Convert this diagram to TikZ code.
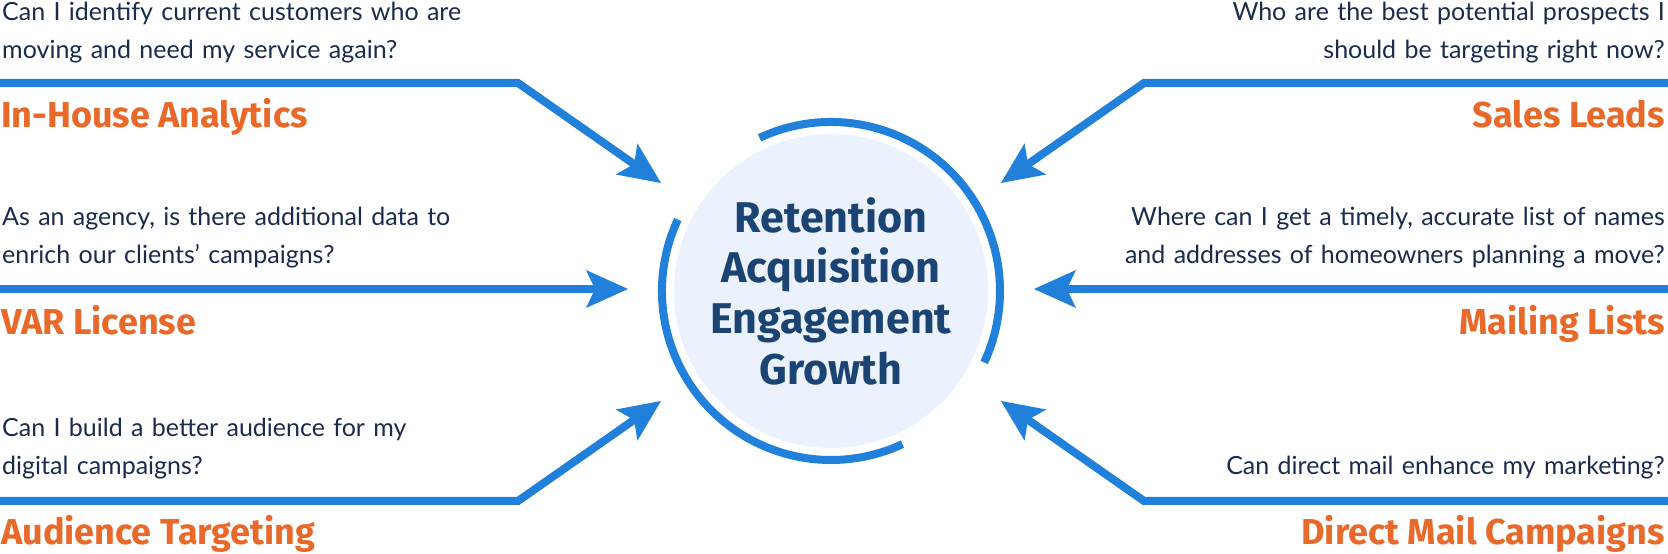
\documentclass[tikz,border=0pt]{standalone}
\usepackage{fontspec}
\setmainfont{Lato}
\newfontfamily\headfont{Fira Sans}
\usetikzlibrary{arrows.meta}

\definecolor{lineblue}{HTML}{2180DA}
\definecolor{leadorange}{HTML}{E8692A}
\definecolor{asknavy}{HTML}{1B2B4D}
\definecolor{hubnavy}{HTML}{1B4472}
\definecolor{hubfill}{HTML}{EBF2FE}

\tikzset{
	feed/.style={draw=lineblue, line width=8pt, -{Stealth[length=42pt, width=38pt, inset=9pt, line width=0pt]}},
	ring/.style={draw=lineblue, line width=8pt},
	ask/.style={inner sep=0pt, text=asknavy, text width=600pt, font=\fontsize{25}{37.5}\selectfont},
	lead/.style={inner sep=0pt, text=leadorange, font=\headfont\bfseries\fontsize{36}{43}\selectfont},
	hub/.style={circle, fill=hubfill, minimum size=314pt, inner sep=0pt, align=center, text=hubnavy, font=\headfont\bfseries\fontsize{43}{50.7}\selectfont}
}

\begin{document}
\begin{tikzpicture}[x=1pt, y=1pt]
	\useasboundingbox (0,0) rectangle (1668,554);

	\node [hub] (hub) at (831,263) {Retention\\Acquisition\\Engagement\\Growth};
	\draw [ring] ([shift={(115:169pt)}] hub.center) arc [start angle=115, end angle=-25, radius=169pt];
	\draw [ring] ([shift={(155:169pt)}] hub.center) arc [start angle=155, end angle=295, radius=169pt];

	% left side
	\coordinate (inA) at (0,471);
	\coordinate (inB) at (518,471);
	\coordinate (inC) at (661,371);
	\draw [feed] (inA) -- (inB) -- (inC);
	\node [ask, anchor=base west, align=left] (qIn) at ([shift={(2pt,62pt)}] inA) {Can I identify current customers who are\\moving and need my service again?};
	\node [lead, anchor=base west] (tIn) at ([shift={(1pt,-45pt)}] inA) {In-House Analytics};

	\coordinate (varA) at (0,265);
	\coordinate (varC) at (628,265);
	\draw [feed] (varA) -- (varC);
	\node [ask, anchor=base west, align=left] (qVar) at ([shift={(2pt,63pt)}] varA) {As an agency, is there additional data to\\enrich our clients’ campaigns?};
	\node [lead, anchor=base west] (tVar) at ([shift={(1pt,-46pt)}] varA) {VAR License};

	\coordinate (audA) at (0,53);
	\coordinate (audB) at (518,53);
	\coordinate (audC) at (661,153);
	\draw [feed] (audA) -- (audB) -- (audC);
	\node [ask, anchor=base west, align=left] (qAud) at ([shift={(2pt,64pt)}] audA) {Can I build a better audience for my\\digital campaigns?};
	\node [lead, anchor=base west] (tAud) at ([shift={(1pt,-44pt)}] audA) {Audience Targeting};

	% right side
	\coordinate (salA) at (1668,471);
	\coordinate (salB) at (1144,471);
	\coordinate (salC) at (1001,371);
	\draw [feed] (salA) -- (salB) -- (salC);
	\node [ask, anchor=base east, align=right] (qSal) at ([shift={(-3pt,62pt)}] salA) {Who are the best potential prospects I\\should be targeting right now?};
	\node [lead, anchor=base east] (tSal) at ([shift={(-3pt,-45pt)}] salA) {Sales Leads};

	\coordinate (mailA) at (1668,265);
	\coordinate (mailC) at (1034,265);
	\draw [feed] (mailA) -- (mailC);
	\node [ask, anchor=base east, align=right] (qMail) at ([shift={(-3pt,63pt)}] mailA) {Where can I get a timely, accurate list of names\\and addresses of homeowners planning a move?};
	\node [lead, anchor=base east] (tMail) at ([shift={(-3pt,-46pt)}] mailA) {Mailing Lists};

	\coordinate (dmA) at (1668,53);
	\coordinate (dmB) at (1144,53);
	\coordinate (dmC) at (1001,153);
	\draw [feed] (dmA) -- (dmB) -- (dmC);
	\node [ask, anchor=base east, align=right] (qDm) at ([shift={(-3pt,26pt)}] dmA) {Can direct mail enhance my marketing?};
	\node [lead, anchor=base east] (tDm) at ([shift={(-3pt,-44pt)}] dmA) {Direct Mail Campaigns};
\end{tikzpicture}
\end{document}
